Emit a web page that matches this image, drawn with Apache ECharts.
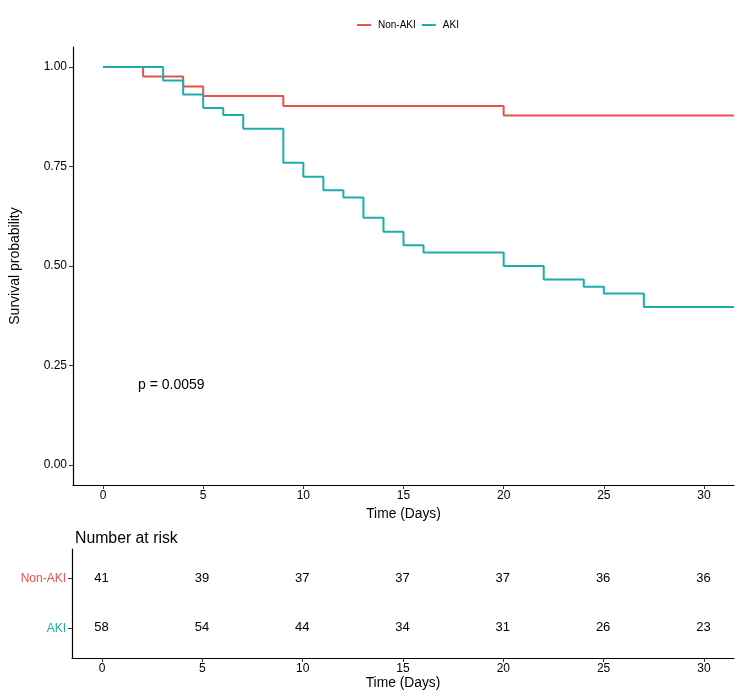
<!DOCTYPE html>
<html>
<head>
<meta charset="utf-8">
<script src="https://cdn.jsdelivr.net/npm/echarts@6/dist/echarts.min.js"></script>
<style>html,body{margin:0;padding:0;background:#fff}#c{width:740px;height:697px}</style>
</head>
<body>
<div id="c"></div>
<script>
// ---- data ----
var groups = ['Non-AKI', 'AKI'];
var colors = ['#E8524D', '#1CAEAC'];
// Kaplan-Meier step points [time, survival]
var nonAkiTimes = [0, 2, 4, 5, 9, 20, 31.5];
var nonAkiSurv  = [1.000, 0.976, 0.951, 0.927, 0.902, 0.878, 0.878];
var akiTimes = [0, 3, 4, 5, 6, 7, 9, 10, 11, 12, 13, 14, 15, 16, 20, 22, 24, 25, 27, 31.5];
var akiSurv  = [1.000, 0.966, 0.931, 0.897, 0.879, 0.845, 0.759, 0.724, 0.690, 0.672, 0.621, 0.586, 0.552, 0.534, 0.500, 0.466, 0.448, 0.431, 0.397, 0.397];
var riskTimes = [0, 5, 10, 15, 20, 25, 30];
var riskNonAki = [41, 39, 37, 37, 37, 36, 36];
var riskAki = [58, 54, 44, 34, 31, 26, 23];
var xTicks = [0, 5, 10, 15, 20, 25, 30];
var yTicks = [0, 0.25, 0.5, 0.75, 1.0];
var pText = 'p = 0.0059';

function zip(a, b) { return a.map(function (v, i) { return [v, b[i]]; }); }

var FONT = 'Liberation Sans, Arial, sans-serif';
var chart = echarts.init(document.getElementById('c'), null, {renderer: 'canvas'});

var GL = 72, GW = 662;

function xAxisCfg(gi) {
  return {
    gridIndex: gi, type: 'value', min: -1.5, max: 31.5,
    name: 'Time (Days)', nameLocation: 'middle', nameGap: 17,
    nameTextStyle: {fontFamily: FONT, fontSize: 13.8, color: '#000'},
    axisLine: {show: true, onZero: false, lineStyle: {color: '#000', width: 1.2}},
    axisTick: {show: true, length: 4, customValues: xTicks, lineStyle: {color: '#333'}},
    axisLabel: {customValues: xTicks, margin: 5, fontFamily: FONT, fontSize: 12, color: '#000'},
    splitLine: {show: false}
  };
}

var riskData = [];
riskTimes.forEach(function (t, i) {
  riskData.push([t, 2, riskNonAki[i]]);
  riskData.push([t, 1, riskAki[i]]);
});

var option = {
  animation: false,
  backgroundColor: '#fff',
  title: {
    text: 'Number at risk', left: GL - 2, top: 526,
    textStyle: {fontFamily: FONT, fontSize: 15.8, fontWeight: 'normal', color: '#000'}
  },
  legend: {
    top: 15, left: 352,
    data: groups,
    icon: 'rect', itemWidth: 14, itemHeight: 2, itemGap: 6,
    textStyle: {fontFamily: FONT, fontSize: 10, color: '#000', padding: [0, 0, 0, 2]}
  },
  grid: [
    {left: GL, width: GW, top: 47, height: 438},
    {left: GL, width: GW, top: 549, height: 109}
  ],
  xAxis: [xAxisCfg(0), xAxisCfg(1)],
  yAxis: [
    {
      gridIndex: 0, type: 'value', min: -0.05, max: 1.05,
      name: 'Survival probability', nameLocation: 'middle', nameGap: 51,
      nameTextStyle: {fontFamily: FONT, fontSize: 14, color: '#000'},
      axisLine: {show: true, onZero: false, lineStyle: {color: '#000', width: 1.2}},
      axisTick: {show: true, length: 4, customValues: yTicks, lineStyle: {color: '#333'}},
      axisLabel: {customValues: yTicks, margin: 6, fontFamily: FONT, fontSize: 12, color: '#000',
        formatter: function (v) { return v.toFixed(2); }},
      splitLine: {show: false}
    },
    {
      gridIndex: 1, type: 'value', min: 0.4, max: 2.6,
      axisLine: {show: true, onZero: false, lineStyle: {color: '#000', width: 1.2}},
      axisTick: {show: true, length: 4, customValues: [1, 2], lineStyle: {color: '#333'}},
      axisLabel: {customValues: [1, 2], margin: 6, fontFamily: FONT, fontSize: 12,
        formatter: function (v) { return v === 2 ? '{a|' + groups[0] + '}' : '{b|' + groups[1] + '}'; },
        rich: {a: {color: colors[0], fontFamily: FONT, fontSize: 12}, b: {color: colors[1], fontFamily: FONT, fontSize: 12}}},
      splitLine: {show: false}
    }
  ],
  series: [
    {
      name: groups[0], type: 'line', step: 'end', xAxisIndex: 0, yAxisIndex: 0,
      data: zip(nonAkiTimes, nonAkiSurv), showSymbol: false, symbol: 'none',
      itemStyle: {color: colors[0]}, lineStyle: {color: colors[0], width: 2}, clip: true
    },
    {
      name: groups[1], type: 'line', step: 'end', xAxisIndex: 0, yAxisIndex: 0,
      data: zip(akiTimes, akiSurv), showSymbol: false, symbol: 'none',
      itemStyle: {color: colors[1]}, lineStyle: {color: colors[1], width: 2}, clip: true
    },
    {
      name: 'risk', type: 'scatter', xAxisIndex: 1, yAxisIndex: 1,
      data: riskData, symbolSize: 1, silent: true,
      itemStyle: {color: 'rgba(0,0,0,0)'},
      label: {show: true, position: [0, 0], align: 'center', verticalAlign: 'middle',
        fontFamily: FONT, fontSize: 13, color: '#000', opacity: 1,
        formatter: function (p) { return String(p.value[2]); }}
    }
  ],
  graphic: [
    {type: 'text', left: 138, top: 378,
     style: {text: pText, font: '14px ' + FONT, fill: '#000'}}
  ]
};
chart.setOption(option);
</script>
</body>
</html>
